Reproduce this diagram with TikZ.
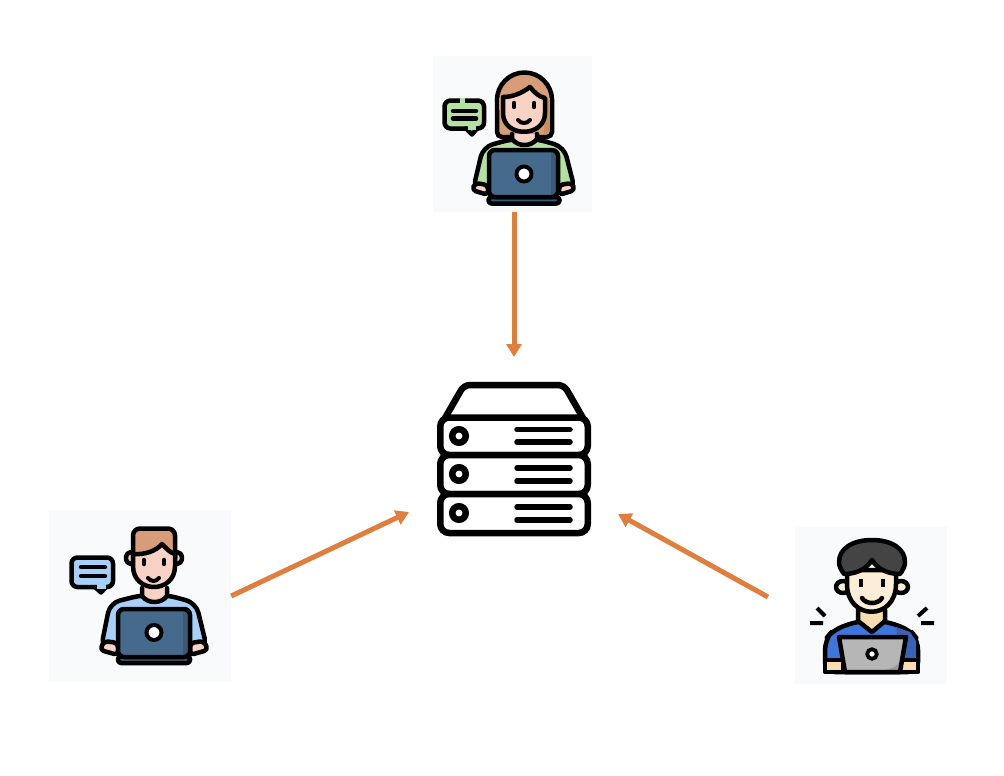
\documentclass[tikz,border=0pt]{standalone}
\usetikzlibrary{arrows.meta}

\definecolor{tilegray}{HTML}{F9FAFC}
\definecolor{arroworange}{HTML}{DF7F3F}
\definecolor{hairbrown}{HTML}{D79C78}
\definecolor{hairdark}{HTML}{CD8C62}
\definecolor{skinpink}{HTML}{F9D2C6}
\definecolor{skindark}{HTML}{EFB5A4}
\definecolor{shirtgreen}{HTML}{B4E0A2}
\definecolor{shirtblue}{HTML}{A8CFF8}
\definecolor{laptopblue}{HTML}{466A8C}
\definecolor{laptopdark}{HTML}{3C5A78}
\definecolor{skincream}{HTML}{FCEED6}
\definecolor{creamdark}{HTML}{F9DDB0}
\definecolor{hairblack}{HTML}{444444}
\definecolor{shirtroyal}{HTML}{3F76DC}
\definecolor{royaldark}{HTML}{3A62B4}
\definecolor{laptopgray}{HTML}{B6B6B6}
\definecolor{graydark}{HTML}{9A9A9A}

\begin{document}
\begin{tikzpicture}[
        x=1pt, y=-1pt,
        tile/.style={fill=tilegray, inner sep=0pt},
        % Frecce arancioni
        arrow/.style={-{Triangle[length=13pt, width=15pt]}, line width=5pt, draw=arroworange},
        ink/.style={draw=black, line width=4.5pt, line join=round, line cap=round},
        rack/.style={draw=black, line width=6.5pt, rounded corners=9pt, fill=white},
        rackline/.style={draw=black, line width=5.5pt, line cap=round}
    ]
    \useasboundingbox (0,0) rectangle (1004,776);

    % --- Tiles ---
    \node[tile, minimum width=159pt, minimum height=156pt] (usertop) at (512.5,134) {};
    \node[tile, minimum width=182pt, minimum height=172pt] (userleft) at (140,596) {};
    \node[tile, minimum width=152pt, minimum height=157pt] (userright) at (871,605.5) {};

    % --- Server ---
    \draw[ink, line width=6.5pt, fill=white, rounded corners=6pt] (445,418) -- (464,385) -- (564,385) -- (583,418);
    \node[rack, minimum width=147.5pt, minimum height=37.5pt] (rackone) at (514,436.25) {};
    \node[rack, minimum width=147.5pt, minimum height=39pt] (racktwo) at (514,474.5) {};
    \node[rack, minimum width=147.5pt, minimum height=39pt] (rackthree) at (514,513.5) {};
    \foreach \y in {436,474,513} {
        \draw[black, line width=6.5pt, fill=white] (459,\y) circle (6.75pt);
    }
    \foreach \y in {429.5,442,468,481,507,520} {
        \draw[rackline] (517,\y) -- (570,\y);
    }

    % --- Woman (top) ---
    \draw[ink, fill=hairbrown, rounded corners=5pt] (497,100) -- (497,137) -- (552,137) -- (552,100);
    \draw[ink, fill=hairbrown] (497,100) arc[start angle=180, end angle=0, radius=27.5pt];
    \fill[hairbrown] (499,98) rectangle (550,110);
    \fill[hairdark] (545,100) -- (549.5,100) -- (549.5,131) -- (544,135) -- cycle;
    \draw[ink, fill=shirtgreen, rounded corners=10pt] (473,190) -- (483,147) -- (512,139) -- (537,139) -- (564,147) -- (575,190) -- cycle;
    \draw[ink, fill=skinpink] (512,134) -- (512,139) .. controls (518,147) and (531,147) .. (537,139) -- (537,134);
    \draw[ink, fill=skinpink] (503,97) -- (503,113) .. controls (503,138) and (545,138) .. (545,113) -- (545,98) .. controls (539,97) and (534,92) .. (530,87) .. controls (522,93) and (513,97) .. (503,97) -- cycle;
    \draw[ink] (514,103) -- (514,107) (534,103) -- (534,107);
    \draw[ink, line width=4pt] (518,120) .. controls (521,124) and (527,124) .. (530,120);
    \draw[ink, fill=skinpink, rounded corners=4pt] (488,185) -- (475,183) -- (472,190) -- (488,195) -- cycle;
    \draw[ink, fill=skinpink, rounded corners=4pt] (559,185) -- (572,183) -- (575,190) -- (559,195) -- cycle;
    \draw[ink, fill=laptopdark, rounded corners=3pt] (488.5,197) rectangle (559.5,203.5);
    \fill[laptopblue, rounded corners=6pt] (489,150) rectangle (558,197);
    \fill[laptopdark] (551,152) rectangle (557,195);
    \draw[ink, rounded corners=6pt] (489,150) rectangle (558,197);
    \draw[black, line width=4pt, fill=white] (524,174) circle (7.5pt);
    \draw[ink, fill=shirtgreen, rounded corners=6pt] (444.5,100.5) rectangle (484,128.5);
    \draw[ink, fill=shirtgreen] (466,128.5) -- (472,134.5) -- (477,128.5);
    \fill[shirtgreen] (467.5,125) rectangle (475.5,130);
    \draw[shirtgreen, line width=5pt] (460,100.5) -- (465,100.5);
    \draw[ink, line width=4.5pt] (453,111) -- (476,111) (453,118.5) -- (476,118.5);

    % --- Man (left) ---
    \draw[ink, fill=shirtblue, rounded corners=10pt] (101,648) -- (110,603) -- (142,595) -- (167,595) -- (196,603) -- (207,648) -- cycle;
    \draw[ink, fill=skinpink] (142,588) -- (142,596) .. controls (148,604) and (161,604) .. (167,596) -- (167,588);
    \draw[ink, fill=skinpink] (131,558) ellipse (5pt and 6pt) (177,558) ellipse (5pt and 6pt);
    \draw[ink, fill=hairbrown, rounded corners=7pt] (133,565) -- (133,528.5) -- (175,528.5) -- (175,565) -- cycle;
    \draw[ink, fill=skinpink] (133,554) -- (133,566) .. controls (133,594) and (175,594) .. (175,566) -- (175,554) .. controls (170,553) and (166,548) .. (162,544) .. controls (156,551) and (145,555) .. (133,554) -- cycle;
    \draw[ink] (144,560) -- (144,564) (164,560) -- (164,564);
    \draw[ink, line width=4pt] (148,578) .. controls (151,582) and (156,582) .. (159,578);
    \draw[ink, fill=skinpink, rounded corners=4pt] (118,643) -- (104,641) -- (100,650) -- (118,655) -- cycle;
    \draw[ink, fill=skinpink, rounded corners=4pt] (190,643) -- (204,641) -- (208,650) -- (190,655) -- cycle;
    \draw[ink, fill=laptopdark, rounded corners=3pt] (118,656) rectangle (190,663);
    \fill[laptopblue, rounded corners=6pt] (118,609) rectangle (190,657);
    \fill[laptopdark] (183,611) rectangle (189,655);
    \draw[ink, rounded corners=6pt] (118,609) rectangle (190,657);
    \draw[black, line width=4pt, fill=white] (154,632.5) circle (7.5pt);
    \draw[ink, fill=shirtblue, rounded corners=6pt] (71.5,557.5) rectangle (113,587);
    \draw[ink, fill=shirtblue] (95,587) -- (101,592.5) -- (106,587);
    \fill[shirtblue] (96.5,583.5) rectangle (105.5,588.5);
    \draw[ink, line width=4.5pt] (81,567) -- (105,567) (81,576) -- (105,576);

    % --- Man (right) ---
    \draw[ink, fill=shirtroyal, rounded corners=10pt] (825,672) -- (825,640) -- (833,630) -- (858,621) -- (885,621) -- (910,630) -- (918,640) -- (918,672) -- cycle;
    \fill[royaldark] (896,627) -- (910,632) -- (916,641) -- (916,670) -- (902,670) -- cycle;
    \draw[ink, fill=creamdark] (858,610) -- (858,621) -- (872,632) -- (885,621) -- (885,610);
    \draw[ink, fill=skincream] (843,587) ellipse (7pt and 6pt) (901,587) ellipse (7pt and 6pt);
    \draw[ink, fill=skincream] (847,570) -- (847,584) .. controls (847,621) and (896,621) .. (896,584) -- (896,570) -- cycle;
    \draw[ink, fill=hairblack] (844,574) .. controls (841,570) and (839,566) .. (839,562) .. controls (839,549) and (852,540) .. (872,540) .. controls (892,540) and (905,549) .. (905,562) .. controls (905,566) and (903,570) .. (900,574) .. controls (889,574) and (878,570) .. (872,560) .. controls (866,570) and (855,574) .. (844,574) -- cycle;
    \draw[draw=black, line width=4.5pt] (861,579) -- (861,587) (883,579) -- (883,587);
    \draw[ink, line width=4.5pt] (862,598) .. controls (866,604.7) and (878,604.7) .. (882,598);
    \draw[ink, fill=creamdark] (825,660) rectangle (843,672);
    \draw[ink, fill=creamdark] (900,660) rectangle (918,672);
    \fill[laptopgray] (839,637) -- (906,637) -- (900,672) -- (845,672) -- cycle;
    \fill[graydark] (901,660) -- (899,671) -- (880,671) .. controls (890,669) and (897,668) .. (901,660) -- cycle;
    \draw[ink] (839,637) -- (906,637) -- (900,672) -- (845,672) -- cycle;
    \draw[black, line width=3.7pt, fill=white] (872,654) circle (4.8pt);
    \draw[black, line width=4pt] (817,608) -- (825,616) (810,623) -- (823,623);
    \draw[black, line width=4pt] (927,608) -- (918,616) (921,623) -- (934,623);

    % --- Connections ---
    \coordinate (servertop) at (514,357);
    \coordinate (serverleft) at (409,512);
    \coordinate (serverright) at (618,514);
    \coordinate (rightout) at (768,597);
    \draw[arrow] (usertop.south -| servertop) -- (servertop);
    \draw[arrow] (userleft.east) -- (serverleft);
    \draw[arrow] (rightout) -- (serverright);

\end{tikzpicture}
\end{document}
